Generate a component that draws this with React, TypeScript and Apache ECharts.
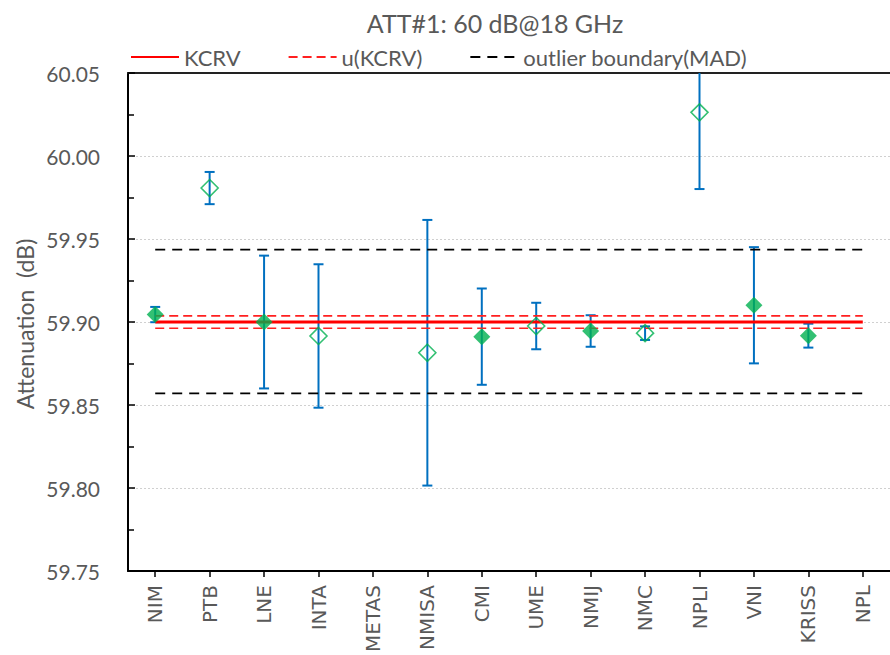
import React, { useEffect, useRef } from "react";
import * as echarts from "echarts";

const categories = ["NIM", "PTB", "LNE", "INTA", "METAS", "NMISA", "CMI", "UME", "NMIJ", "NMC", "NPLI", "VNI", "KRISS", "NPL"];
const values: (number | null)[] = [59.9045, 59.9807, 59.9, 59.8916, null, 59.8815, 59.8912, 59.8976, 59.8946, 59.8933, 60.0263, 59.9101, 59.8918, null];
const uncertainties: (number | null)[] = [0.0046, 0.0097, 0.04, 0.0432, null, 0.08, 0.029, 0.014, 0.0095, 0.0041, 0.0462, 0.035, 0.0072, null];
const inKcrv: (boolean | null)[] = [true, false, true, false, null, false, true, false, true, false, false, true, true, null];

const kcrv = 59.9;
const uKcrv = 0.0037;
const madUpper = 59.9436;
const madLower = 59.857;

const yTicks = { min: 59.75, max: 60.05, interval: 0.05 };

const GREEN = "#00B050";
const BLUE = "#0070C0";
const GREY = "#595959";

export default function App() {
  const ref = useRef<HTMLDivElement>(null);
  useEffect(() => {
    if (!ref.current) return;
    const chart = echarts.init(ref.current, null, { renderer: "svg" });
    const last = categories.length - 1;

    const errData: number[][] = [];
    const ptData: any[] = [];
    values.forEach((v, i) => {
      const u = uncertainties[i];
      if (v == null || u == null) return;
      errData.push([i, v - u, v + u]);
      const filled = inKcrv[i];
      ptData.push({
        value: [i, v],
        itemStyle: filled
          ? { color: GREEN, borderWidth: 0 }
          : { color: "rgba(0,0,0,0)", borderColor: GREEN, borderWidth: 1.6 },
      });
    });

    const hline = (name: string, y: number, color: string, width: number, type: any, z: number) => ({
      name,
      type: "line",
      data: [[0, y], [last, y]],
      symbol: "none",
      showSymbol: false,
      silent: true,
      z,
      itemStyle: { color, opacity: 0 },
      lineStyle: { color, width, type },
    });

    chart.setOption({
      animation: false,
      backgroundColor: "#fff",
      textStyle: { fontFamily: "Lato" },
      graphic: [
        {
          type: "text",
          x: 495,
          y: 23,
          style: {
            text: "ATT#1: 60 dB@18 GHz",
            textAlign: "center",
            textVerticalAlign: "middle",
            fontFamily: "Lato",
            fontSize: 25,
            fill: GREY,
          },
        },
        {
          type: "text",
          x: 25,
          y: 324,
          rotation: Math.PI / 2,
          style: {
            text: "Attenuation  (dB)",
            textAlign: "center",
            textVerticalAlign: "middle",
            fontFamily: "Lato",
            fontSize: 23,
            fill: GREY,
          },
        },
      ],
      legend: {
        left: 125,
        top: 41,
        itemWidth: 48,
        itemHeight: 14,
        itemGap: 47,
        itemStyle: { opacity: 0 },
        data: ["KCRV", "u(KCRV)", "outlier boundary(MAD)"],
        textStyle: { fontFamily: "Lato", fontSize: 22, color: GREY },
      },
      grid: { left: 128, top: 73, bottom: 80, width: 776, containLabel: false },
      xAxis: [
        {
          type: "category",
          data: categories,
          boundaryGap: true,
          axisLine: { lineStyle: { color: "#000", width: 2 } },
          axisTick: { show: true, alignWithLabel: true, length: 6, lineStyle: { color: "#000", width: 1.5 } },
          axisLabel: {
            rotate: 90,
            margin: 14,
            fontFamily: "DejaVu Sans",
            fontSize: 20,
            color: GREY,
            interval: 0,
          },
          splitLine: { show: false },
        },
        {
          type: "category",
          data: categories,
          position: "top",
          axisLine: { lineStyle: { color: "#222", width: 2 } },
          axisTick: { show: false },
          axisLabel: { show: false },
        },
      ],
      yAxis: {
        type: "value",
        min: yTicks.min,
        max: yTicks.max,
        interval: yTicks.interval,
        axisLine: { show: true, lineStyle: { color: "#000", width: 2 } },
        axisTick: { show: true, inside: true, length: 7, lineStyle: { color: "#000", width: 1.5 } },
        minorTick: { show: true, splitNumber: 2, length: 6, lineStyle: { color: "#000", width: 1.5 } },
        axisLabel: {
          margin: 28,
          fontFamily: "Lato",
          fontSize: 21,
          color: GREY,
          formatter: (v: number) => v.toFixed(2),
        },
        splitLine: { show: true, lineStyle: { color: "#D0D0D0", type: [2, 2], width: 1 } },
      },
      series: [
        {
          name: "errors",
          type: "custom",
          z: 2,
          silent: true,
          data: errData,
          encode: { x: 0, y: [1, 2] },
          renderItem: (_p: any, api: any) => {
            const x = api.value(0);
            const lo = api.value(1);
            const hi = api.value(2);
            const topV = Math.min(hi, yTicks.max);
            const pT = api.coord([x, topV]);
            const pB = api.coord([x, lo]);
            const half = 5;
            const st = { stroke: BLUE, lineWidth: 2 };
            const children: any[] = [
              { type: "line", shape: { x1: pT[0], y1: pT[1], x2: pB[0], y2: pB[1] }, style: st },
              { type: "line", shape: { x1: pB[0] - half, y1: pB[1], x2: pB[0] + half, y2: pB[1] }, style: st },
            ];
            if (hi <= yTicks.max) {
              children.push({ type: "line", shape: { x1: pT[0] - half, y1: pT[1], x2: pT[0] + half, y2: pT[1] }, style: st });
            }
            return { type: "group", children };
          },
        },
        hline("KCRV", kcrv, "#FF0000", 3, "solid", 3),
        hline("u(KCRV)", kcrv + uKcrv, "#FF2020", 1.6, [9, 5], 3),
        hline("u(KCRV)", kcrv - uKcrv, "#FF2020", 1.6, [9, 5], 3),
        hline("outlier boundary(MAD)", madUpper, "#000", 1.6, [10, 7], 3),
        hline("outlier boundary(MAD)", madLower, "#000", 1.6, [10, 7], 3),
        {
          name: "points",
          type: "scatter",
          z: 5,
          symbol: "diamond",
          symbolSize: 17,
          data: ptData,
        },
      ],
    });
    return () => chart.dispose();
  }, []);
  return <div ref={ref} style={{ position: "absolute", left: 0, top: 0, width: 890, height: 655, background: "#fff" }} />;
}
